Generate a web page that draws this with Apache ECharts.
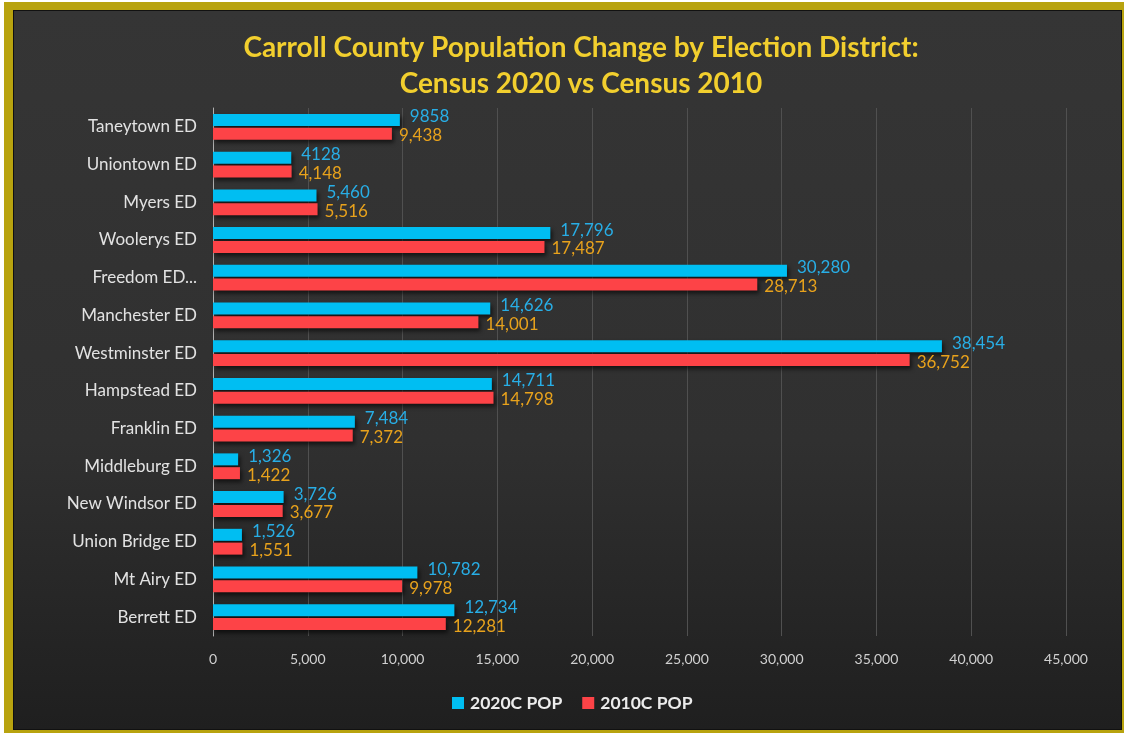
<!DOCTYPE html>
<html>
<head>
<meta charset="utf-8">
<script src="https://cdn.jsdelivr.net/npm/echarts@6/dist/echarts.min.js"></script>
<style>
  html, body { margin: 0; padding: 0; background: #fff; }
  .frame { position: absolute; left: 4px; top: 2px; width: 1120px; height: 731px; background: #b8a30f; }
  .panel { position: absolute; left: 9px; top: 8px; width: 1107px; height: 718px; border: 1px solid #111;
           background: linear-gradient(to bottom, #353535 0%, #303030 60%, #1f1f1f 100%); }
  #chart { position: absolute; left: 0; top: 0; width: 1124px; height: 733px; }
</style>
</head>
<body>
<div class="frame"><div class="panel"></div></div>
<div id="chart"></div>
<script>
// election districts, top to bottom
const districts = ['Taneytown ED', 'Uniontown ED', 'Myers ED', 'Woolerys ED', 'Freedom ED...', 'Manchester ED',
  'Westminster ED', 'Hampstead ED', 'Franklin ED', 'Middleburg ED', 'New Windsor ED', 'Union Bridge ED',
  'Mt Airy ED', 'Berrett ED']
const pop2020 = [9858, 4128, 5460, 17796, 30280, 14626, 38454, 14711, 7484, 1326, 3726, 1526, 10782, 12734]
const pop2010 = [9438, 4148, 5516, 17487, 28713, 14001, 36752, 14798, 7372, 1422, 3677, 1551, 9978, 12281]
// data labels as printed in the chart (two of them have no thousands separator)
const labels2020 = ['9858', '4128', '5,460', '17,796', '30,280', '14,626', '38,454', '14,711', '7,484', '1,326',
  '3,726', '1,526', '10,782', '12,734']
const labels2010 = ['9,438', '4,148', '5,516', '17,487', '28,713', '14,001', '36,752', '14,798', '7,372', '1,422',
  '3,677', '1,551', '9,978', '12,281']
const xTicks = { min: 0, max: 45000, step: 5000 }

const fontFamily = 'Lato, "Open Sans", sans-serif'
const barShadow = { shadowColor: 'rgba(0,0,0,0.6)', shadowBlur: 4, shadowOffsetX: 2, shadowOffsetY: 3 }

var chart = echarts.init(document.getElementById('chart'))
const option = {
  backgroundColor: 'transparent',
  textStyle: { fontFamily: fontFamily },
  title: {
    text: 'Carroll County Population Change by Election District:\nCensus 2020 vs Census 2010',
    left: 576,
    top: 25,
    textAlign: 'center',
    textStyle: { color: '#f2cf2e', fontSize: 28, fontWeight: 'bold', lineHeight: 36, fontFamily: fontFamily }
  },
  legend: {
    top: 689,
    left: 447,
    itemWidth: 12,
    itemHeight: 12,
    itemGap: 20,
    icon: 'rect',
    textStyle: { color: '#ececec', fontSize: 17.5, fontWeight: 'bold', padding: [0, 0, 0, 1] },
    data: ['2020C POP', '2010C POP']
  },
  grid: { left: 213, right: 58, top: 108, height: 528, containLabel: false },
  xAxis: {
    type: 'value',
    min: xTicks.min,
    max: xTicks.max,
    interval: xTicks.step,
    axisLine: { show: false },
    axisTick: { show: false },
    splitLine: { lineStyle: { color: '#505050', width: 1 } },
    axisLabel: {
      color: '#d0d0d0',
      fontSize: 14,
      margin: 16,
      formatter: (v) => v.toLocaleString('en-US')
    }
  },
  yAxis: {
    type: 'category',
    inverse: true,
    data: districts,
    axisLine: { show: true, lineStyle: { color: '#b0b0b0', width: 1 } },
    axisTick: { show: false },
    axisLabel: { color: '#e2e2e2', fontSize: 17, margin: 16 }
  },
  series: [
    {
      name: '2020C POP',
      type: 'bar',
      data: pop2020,
      barWidth: 12,
      barGap: '15%',
      itemStyle: Object.assign({ color: '#00bef2' }, barShadow),
      label: {
        show: true,
        position: 'right',
        distance: 10,
        offset: [0, -3],
        color: '#28aee6',
        fontSize: 17,
        formatter: (p) => labels2020[p.dataIndex]
      }
    },
    {
      name: '2010C POP',
      type: 'bar',
      data: pop2010,
      barWidth: 12,
      itemStyle: Object.assign({ color: '#fd4347' }, barShadow),
      label: {
        show: true,
        position: 'right',
        distance: 7,
        offset: [0, 2],
        color: '#e8a21c',
        fontSize: 17,
        formatter: (p) => labels2010[p.dataIndex]
      }
    }
  ]
}
chart.setOption(option, true)
</script>
</body>
</html>
